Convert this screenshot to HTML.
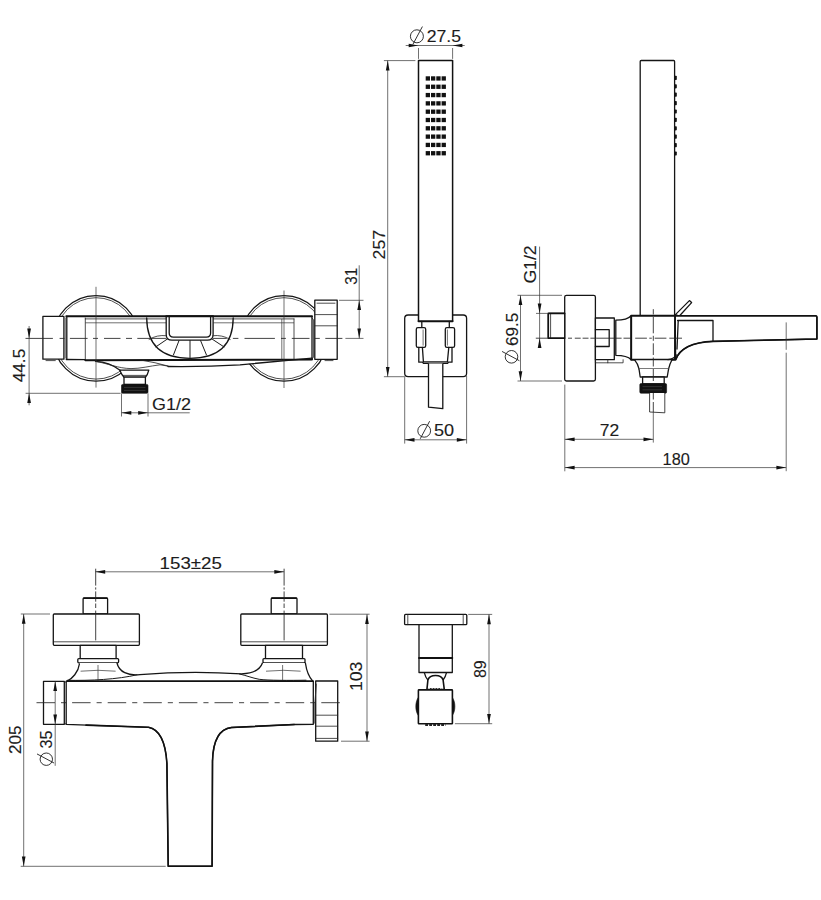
<!DOCTYPE html>
<html lang="en">
<head>
<meta charset="utf-8">
<title>Technical drawing</title>
<style>
html,body{margin:0;padding:0;background:#fff;}
body{width:821px;height:900px;overflow:hidden;}
svg{display:block;}
svg text{font-family:"Liberation Sans",Arial,Helvetica,sans-serif;fill:#1c1c1c;stroke:#1c1c1c;stroke-width:0.12;}
.k{fill:none;stroke:#111;stroke-width:1.9;stroke-linejoin:round;stroke-linecap:round;}
.m{fill:none;stroke:#151515;stroke-width:1.3;stroke-linejoin:round;stroke-linecap:round;}
.m2{fill:none;stroke:#1a1a1a;stroke-width:1;stroke-linecap:round;}
.mw{fill:#fff;stroke:#151515;stroke-width:1.3;stroke-linejoin:round;}
.kw{fill:#fff;stroke:#111;stroke-width:1.9;stroke-linejoin:round;}
.hw{fill:#fff;stroke:#111;stroke-width:1.5;stroke-linejoin:round;}
.k2{fill:none;stroke:#111;stroke-width:1.6;stroke-linejoin:round;stroke-linecap:round;}
.nw{fill:#fff;stroke:#222;stroke-width:0.85;stroke-linejoin:round;}
.kw2{fill:#fff;stroke:#111;stroke-width:1.6;stroke-linejoin:round;}
.w{fill:#fff;stroke:none;}
.n{fill:none;stroke:#222;stroke-width:0.8;stroke-linecap:round;}
.r{fill:none;stroke:#1c1c1c;stroke-width:1;stroke-linecap:round;}
.t{fill:none;stroke:#333;stroke-width:0.7;}
.c{fill:none;stroke:#222;stroke-width:0.85;stroke-dasharray:28 2.8 2.4 2.8;}
.cl{fill:none;stroke:#222;stroke-width:0.85;}
.c2{fill:none;stroke:#222;stroke-width:0.85;stroke-dasharray:18.5 6 5.1 6;}
.c3{fill:none;stroke:#222;stroke-width:0.85;stroke-dasharray:9 2.8 5 2.8;}
.c4{fill:none;stroke:#222;stroke-width:0.85;stroke-dasharray:16 2.5 2.5 2.5;}
.d{fill:none;stroke:#1c1c1c;stroke-width:0.9;}
.g{fill:none;stroke:#4a4a4a;stroke-width:0.6;}
.a{fill:#111;stroke:none;}
.b{fill:#111;stroke:#111;stroke-width:0.6;}
</style>
</head>
<body>
<svg width="821" height="900" viewBox="0 0 821 900">
<rect class="w" x="0" y="0" width="821" height="900"/>

<g id="front-view">
<circle class="m" cx="96" cy="338.4" r="42.8"/>
<circle class="n" cx="96" cy="338.4" r="40.7"/>
<circle class="m" cx="284" cy="338.4" r="42.8"/>
<circle class="n" cx="284" cy="338.4" r="40.7"/>
<path class="w" d="M66.3,316.3 H312 V358.6 L240,364.6 Q205,366.6 168,366.2 L150,368.6 L148.5,370.4 H120 C112,364 104,361.6 95.5,361.2 L66.3,359.3 Z"/>
<rect class="mw" x="42.9" y="316.4" width="21" height="42.8"/>
<line class="n" x1="46" y1="360.6" x2="55.3" y2="360.6"/>
<line class="t" x1="65.3" y1="317.5" x2="65.3" y2="358.5"/>
<rect class="mw" x="314.8" y="300.2" width="22.4" height="59.1"/>
<line class="n" x1="317" y1="303.2" x2="335" y2="303.2"/>
<line class="n" x1="314.8" y1="314.6" x2="337.2" y2="314.6"/>
<line class="n" x1="314.8" y1="325.8" x2="337.2" y2="325.8"/>
<line class="n" x1="325" y1="360.6" x2="333" y2="360.6"/>
<path class="n" d="M312,318 L313.6,320 V357 L312,359"/>
<line class="m" x1="66.8" y1="316.3" x2="66.8" y2="359.3"/>
<line class="k" x1="66.3" y1="316.3" x2="312" y2="316.3"/>
<line class="m" x1="312" y1="316.3" x2="312" y2="359.3"/>
<line class="m" x1="66.3" y1="359.5" x2="85.3" y2="359.7"/>
<line class="k" x1="85.3" y1="360.2" x2="312" y2="359.6"/>
<line class="n" x1="85.3" y1="318" x2="85.3" y2="359.5"/>
<line class="n" x1="294" y1="319" x2="294" y2="359.5"/>
<line class="t" x1="281.8" y1="319" x2="281.8" y2="359.5"/>
<line class="n" x1="85.3" y1="318.9" x2="294" y2="318.9"/>
<line class="t" x1="85.3" y1="322.8" x2="166" y2="322.8"/>
<line class="t" x1="213.3" y1="322.8" x2="294" y2="322.8"/>
<path class="m" d="M312,358.2 L240,364.8 Q205,367 168,366.5"/>
<path class="n" d="M140,359.9 Q156,362.5 168,366"/>
<path class="m" d="M95.5,361.3 C104,361.6 112,364 120.4,370.4"/>
<path class="n" d="M95.5,361.3 C108,363.5 118,368.4 131,368.6 C140,368.7 150,366 160,364.8 L168,366.1"/>
<path class="mw" d="M119.8,370.2 C121.2,373.5 122.4,375.6 124,377.2 H145.4 C147,375.6 148,373.5 148.8,370.2 Z"/>
<line class="n" x1="123.2" y1="375.4" x2="146.2" y2="375.4"/>
<rect class="mw" x="124" y="377.2" width="21.4" height="7.2"/>
<rect class="b" x="121.5" y="384.4" width="26.5" height="8.9" rx="1.2"/>
<line class="g" x1="124" y1="387.4" x2="145.5" y2="387.4"/>
<line class="g" x1="124" y1="390.4" x2="145.5" y2="390.4"/>
<line class="t" x1="121.5" y1="393.3" x2="121.5" y2="416.5"/>
<line class="t" x1="148" y1="393.3" x2="148" y2="416.5"/>
<path class="m" d="M146.7,318 C146.9,349 166,358.3 190,358.3 C214,358.3 233,349 233.2,318"/>
<path class="mw" d="M166.2,316.3 V334.5 Q166.2,340.2 172,340.2 H207.4 Q213.1,340.2 213.1,334.5 V316.3"/>
<path class="m" d="M169.2,317 V333 Q169.2,337.1 173.4,337.1 H206.4 Q210.6,337.1 210.6,333 V317"/>
<line class="r" x1="179" y1="340.6" x2="173.5" y2="354.8"/>
<line class="r" x1="190" y1="340.4" x2="190" y2="359.7"/>
<line class="r" x1="200.6" y1="340.6" x2="206.4" y2="354.8"/>
<line class="r" x1="167.4" y1="339" x2="155.8" y2="346.9"/>
<line class="r" x1="212" y1="339" x2="224" y2="346.9"/>
<path class="n" d="M149.1,339.4 Q157,334.6 166.2,335.7"/>
<path class="n" d="M213.1,335.7 Q222,334.6 230.2,339.4"/>
<line class="k" x1="166.2" y1="316.3" x2="213.1" y2="316.3"/>
<path class="cl" d="M25.5,338.4 H52.9 M59.6,338.4 H64.5 M69.9,338.4 H87.6 M93,338.4 H98 M104,338.4 H120.5 M126,338.4 H132 M137.3,338.4 H166.5 M213,338.4 H226.8 M232.9,338.4 H238.4 M244.5,338.4 H274.9 M281,338.4 H285.9 M291.8,338.4 H309.5 M315,338.4 H319.8 M325.3,338.4 H342.4"/>
<line class="t" x1="345.4" y1="338.4" x2="363.5" y2="338.4"/>
<line class="t" x1="96" y1="286.8" x2="96" y2="387.6"/>
<line class="t" x1="284" y1="290.5" x2="284" y2="388"/>
</g>
<g id="front-dims">
<line class="t" x1="29.1" y1="326" x2="29.1" y2="405.3"/>
<polygon class="a" points="29.1,338.4 27.25,328.6 30.95,328.6"/>
<polygon class="a" points="29.1,393.3 27.25,403.1 30.95,403.1"/>
<line class="t" x1="25.6" y1="393.3" x2="120.6" y2="393.3"/>
<text transform="translate(25.3 382.3) rotate(-90)" font-size="16" textLength="33.5" lengthAdjust="spacingAndGlyphs">44.5</text>
<line class="t" x1="121.5" y1="412.8" x2="189.7" y2="412.8"/>
<polygon class="a" points="121.5,412.8 131.3,410.95 131.3,414.65"/>
<polygon class="a" points="148,412.8 138.2,410.95 138.2,414.65"/>
<text x="152" y="409.6" font-size="16" textLength="38.9" lengthAdjust="spacingAndGlyphs">G1/2</text>
<line class="t" x1="339" y1="300.3" x2="363.5" y2="300.3"/>
<line class="t" x1="359.2" y1="265.3" x2="359.2" y2="338.4"/>
<polygon class="a" points="359.2,300.3 357.35,310.1 361.05,310.1"/>
<polygon class="a" points="359.2,338.4 357.35,328.6 361.05,328.6"/>
<text transform="translate(356.5 284.7) rotate(-90)" font-size="16" textLength="16.9" lengthAdjust="spacingAndGlyphs">31</text>
</g>
<g id="shower-front">
<rect class="mw" x="404.7" y="315" width="61.9" height="61.7" rx="3.4"/>
<path class="hw" d="M418.5,321.3 V60.6 H452.6 V321.3"/>
<line class="k" x1="418.5" y1="321.3" x2="452.6" y2="321.3"/>
<rect class="a" x="425.7" y="76.3" width="4.3" height="4.3"/>
<rect class="a" x="431" y="76.3" width="4.3" height="4.3"/>
<rect class="a" x="436.3" y="76.3" width="4.3" height="4.3"/>
<rect class="a" x="441.6" y="76.3" width="4.3" height="4.3"/>
<rect class="a" x="425.7" y="84.61" width="4.3" height="4.3"/>
<rect class="a" x="431" y="84.61" width="4.3" height="4.3"/>
<rect class="a" x="436.3" y="84.61" width="4.3" height="4.3"/>
<rect class="a" x="441.6" y="84.61" width="4.3" height="4.3"/>
<rect class="a" x="425.7" y="92.92" width="4.3" height="4.3"/>
<rect class="a" x="431" y="92.92" width="4.3" height="4.3"/>
<rect class="a" x="436.3" y="92.92" width="4.3" height="4.3"/>
<rect class="a" x="441.6" y="92.92" width="4.3" height="4.3"/>
<rect class="a" x="425.7" y="101.23" width="4.3" height="4.3"/>
<rect class="a" x="431" y="101.23" width="4.3" height="4.3"/>
<rect class="a" x="436.3" y="101.23" width="4.3" height="4.3"/>
<rect class="a" x="441.6" y="101.23" width="4.3" height="4.3"/>
<rect class="a" x="425.7" y="109.54" width="4.3" height="4.3"/>
<rect class="a" x="431" y="109.54" width="4.3" height="4.3"/>
<rect class="a" x="436.3" y="109.54" width="4.3" height="4.3"/>
<rect class="a" x="441.6" y="109.54" width="4.3" height="4.3"/>
<rect class="a" x="425.7" y="117.85" width="4.3" height="4.3"/>
<rect class="a" x="431" y="117.85" width="4.3" height="4.3"/>
<rect class="a" x="436.3" y="117.85" width="4.3" height="4.3"/>
<rect class="a" x="441.6" y="117.85" width="4.3" height="4.3"/>
<rect class="a" x="425.7" y="126.16" width="4.3" height="4.3"/>
<rect class="a" x="431" y="126.16" width="4.3" height="4.3"/>
<rect class="a" x="436.3" y="126.16" width="4.3" height="4.3"/>
<rect class="a" x="441.6" y="126.16" width="4.3" height="4.3"/>
<rect class="a" x="425.7" y="134.47" width="4.3" height="4.3"/>
<rect class="a" x="431" y="134.47" width="4.3" height="4.3"/>
<rect class="a" x="436.3" y="134.47" width="4.3" height="4.3"/>
<rect class="a" x="441.6" y="134.47" width="4.3" height="4.3"/>
<rect class="a" x="425.7" y="142.78" width="4.3" height="4.3"/>
<rect class="a" x="431" y="142.78" width="4.3" height="4.3"/>
<rect class="a" x="436.3" y="142.78" width="4.3" height="4.3"/>
<rect class="a" x="441.6" y="142.78" width="4.3" height="4.3"/>
<rect class="a" x="425.7" y="151.09" width="4.3" height="4.3"/>
<rect class="a" x="431" y="151.09" width="4.3" height="4.3"/>
<rect class="a" x="436.3" y="151.09" width="4.3" height="4.3"/>
<rect class="a" x="441.6" y="151.09" width="4.3" height="4.3"/>
<line class="m" x1="421.8" y1="321.3" x2="421.8" y2="327.7"/>
<line class="m" x1="449.3" y1="321.3" x2="449.3" y2="327.7"/>
<rect class="mw" x="416.3" y="327.7" width="9.4" height="19.7" rx="1.6"/>
<rect class="mw" x="445.3" y="327.7" width="9.3" height="19.7" rx="1.6"/>
<line class="t" x1="423.1" y1="329.5" x2="423.1" y2="345.6"/>
<line class="t" x1="447.4" y1="329.5" x2="447.4" y2="345.6"/>
<path class="m" d="M418.8,347.4 V362.2 L422.6,362.2 L423.4,363.4 H447.6 L448.4,362.2 H452 V347.4"/>
<path class="m" d="M422.4,347.4 L423.4,361.8 H447.4 L448.8,347.4"/>
<path class="mw" d="M428.5,363.4 V407.2 L442.8,408.6 V363.4"/>
</g>
<g id="shower-front-dims">
<line class="t" x1="405.7" y1="45.5" x2="464.7" y2="45.5"/>
<polygon class="a" points="418.5,45.5 408.7,43.65 408.7,47.35"/>
<polygon class="a" points="452.6,45.5 462.4,43.65 462.4,47.35"/>
<line class="t" x1="418.5" y1="48" x2="418.5" y2="58.9"/>
<line class="t" x1="452.6" y1="48" x2="452.6" y2="58.9"/>
<circle class="d" cx="416.9" cy="36.3" r="6.5"/>
<line class="d" x1="412.87" y1="44.42" x2="422.42" y2="26.55"/>
<text x="426.7" y="41.9" font-size="16" textLength="34.3" lengthAdjust="spacingAndGlyphs">27.5</text>
<line class="t" x1="383.9" y1="60.6" x2="415.4" y2="60.6"/>
<line class="t" x1="383.9" y1="376.7" x2="404" y2="376.7"/>
<line class="t" x1="387.7" y1="60.6" x2="387.7" y2="376.7"/>
<polygon class="a" points="387.7,60.6 385.85,70.4 389.55,70.4"/>
<polygon class="a" points="387.7,376.7 385.85,366.9 389.55,366.9"/>
<text transform="translate(384.7 259.4) rotate(-90)" font-size="16" textLength="29.4" lengthAdjust="spacingAndGlyphs">257</text>
<line class="t" x1="404.7" y1="376" x2="404.7" y2="443.6"/>
<line class="t" x1="466.6" y1="376" x2="466.6" y2="443.6"/>
<line class="t" x1="404.7" y1="439.8" x2="466.6" y2="439.8"/>
<polygon class="a" points="404.7,439.8 414.5,437.95 414.5,441.65"/>
<polygon class="a" points="466.6,439.8 456.8,437.95 456.8,441.65"/>
<circle class="d" cx="424.2" cy="430.8" r="6.4"/>
<line class="d" x1="420.23" y1="438.8" x2="429.64" y2="421.2"/>
<text x="434" y="435.9" font-size="16" textLength="20.1" lengthAdjust="spacingAndGlyphs">50</text>
</g>
<g id="side-view">
<rect class="mw" x="640.2" y="60.5" width="34.4" height="255.5" rx="1"/>
<rect class="a" x="674.6" y="75.8" width="2.2" height="4.2" rx="0.8"/>
<rect class="a" x="674.6" y="84.2" width="2.2" height="4.2" rx="0.8"/>
<rect class="a" x="674.6" y="92.6" width="2.2" height="4.2" rx="0.8"/>
<rect class="a" x="674.6" y="101" width="2.2" height="4.2" rx="0.8"/>
<rect class="a" x="674.6" y="109.4" width="2.2" height="4.2" rx="0.8"/>
<rect class="a" x="674.6" y="117.8" width="2.2" height="4.2" rx="0.8"/>
<rect class="a" x="674.6" y="126.2" width="2.2" height="4.2" rx="0.8"/>
<rect class="a" x="674.6" y="134.6" width="2.2" height="4.2" rx="0.8"/>
<rect class="a" x="674.6" y="143" width="2.2" height="4.2" rx="0.8"/>
<rect class="a" x="674.6" y="151.4" width="2.2" height="4.2" rx="0.8"/>
<path class="mw" d="M675.4,314.6 L689.4,300.6 L691.6,302.6 L679.4,316 Z"/>
<rect class="mw" x="564.7" y="295.3" width="30.7" height="85.7" rx="1.8"/>
<rect class="mw" x="548.3" y="313.4" width="16.4" height="24.8" rx="0.8"/>
<line class="n" x1="550.6" y1="314" x2="550.6" y2="337.6"/>
<path class="k2" d="M564.7,313.4 H548.3 V338.2 H564.7"/>
<rect class="mw" x="595.4" y="318" width="18.9" height="41.7"/>
<path class="m" d="M595.4,329.7 H609.2 V346.5 H595.4"/>
<path class="n" d="M595.4,359.7 V362.8 H623.1 V359.7 M607.8,359.7 V362.8"/>
<path class="mw" d="M615.8,320.2 C622,320.2 628,319.4 631.2,315.8 V359.7 C628,356.2 622,355.3 615.8,355.3 Z"/>
<path class="mw" d="M675,315.8 H815.6 Q816.9,315.8 816.9,317.1 V339 L713,341.4 C694,342.2 680,348 675.7,359.6 Z"/>
<path class="k2" d="M675,315.8 H815.6 Q816.9,315.8 816.9,317.1 V339 L713,341.4 C694,342.2 680,348 675.7,359.6"/>
<path class="m" d="M677.6,320.5 H713 V341.2"/>
<path class="m" d="M678.2,321 L677,349"/>
<rect class="kw" x="631.2" y="315.8" width="43.8" height="43.9"/>
<path class="mw" d="M634.4,359.7 C637.2,363 638.4,366 639,368.8 H668.6 C669.2,366 670.2,363 672,359.7 Z"/>
<path class="mw" d="M639,368.8 L640.2,377 H667.2 L668.6,368.8"/>
<rect class="mw" x="642.6" y="377" width="21.6" height="7"/>
<rect class="b" x="639.8" y="383.6" width="26.8" height="9.6" rx="1.2"/>
<line class="g" x1="642.5" y1="386.6" x2="662" y2="386.6"/>
<line class="g" x1="642.5" y1="389.8" x2="662" y2="389.8"/>
<path class="nw" d="M649.6,393 V412 L664.8,412.8 V393"/>
<path class="m" d="M668,359.7 C672,359 675,357.5 676.4,355"/>
<path class="cl" d="M535.8,338.2 H548.3 M568,338.2 H572 M574.8,338.2 H580.7 M582.6,338.2 H588.5 M590.4,338.2 H596.3 M596.3,338.2 H621.6 M623.5,338.2 H631.3 M635.2,338.2 H646.9 M649.3,338.2 H651.8 M654.7,338.2 H666.4 M669.3,338.2 H682"/>
<path class="cl" d="M653.3,309.2 V314.5 M653.3,317 V333.3 M653.3,335.8 V340.8 M653.3,343.3 V355 M653.3,357.5 V366.5 M653.3,369 V381 M653.3,393 V399.5 M653.3,402 V412"/>
<line class="t" x1="653.3" y1="412" x2="653.3" y2="442.6"/>

</g>
<g id="side-dims">
<line class="t" x1="517.5" y1="295.3" x2="562" y2="295.3"/>
<line class="t" x1="517.5" y1="381" x2="562" y2="381"/>
<line class="t" x1="520.5" y1="295.3" x2="520.5" y2="381"/>
<polygon class="a" points="520.5,295.3 518.65,305.1 522.35,305.1"/>
<polygon class="a" points="520.5,381 518.65,371.2 522.35,371.2"/>
<text transform="translate(518.1 346) rotate(-90)" font-size="16" textLength="33.4" lengthAdjust="spacingAndGlyphs">69.5</text>
<circle class="d" cx="511.5" cy="356.8" r="6.3"/>
<line class="d" x1="519.38" y1="360.71" x2="502.05" y2="351.44"/>
<line class="t" x1="539.6" y1="246.6" x2="539.6" y2="347.9"/>
<polygon class="a" points="539.6,313.4 537.75,303.6 541.45,303.6"/>
<polygon class="a" points="539.6,338.2 537.75,348 541.45,348"/>
<line class="t" x1="536" y1="313.4" x2="548" y2="313.4"/>
<text transform="translate(536 283.6) rotate(-90)" font-size="16" textLength="38.2" lengthAdjust="spacingAndGlyphs">G1/2</text>
<line class="t" x1="564.8" y1="384.6" x2="564.8" y2="471.3"/>
<line class="t" x1="564.8" y1="439.3" x2="653.3" y2="439.3"/>
<polygon class="a" points="564.8,439.3 574.6,437.45 574.6,441.15"/>
<polygon class="a" points="653.3,439.3 643.5,437.45 643.5,441.15"/>
<text x="599.8" y="435.9" font-size="16" textLength="19.4" lengthAdjust="spacingAndGlyphs">72</text>
<line class="t" x1="564.8" y1="467.6" x2="786.2" y2="467.6"/>
<polygon class="a" points="564.8,467.6 574.6,465.75 574.6,469.45"/>
<polygon class="a" points="786.2,467.6 776.4,465.75 776.4,469.45"/>
<text x="662.6" y="464.5" font-size="16" textLength="27.2" lengthAdjust="spacingAndGlyphs">180</text>
<line class="t" x1="786.2" y1="322.4" x2="786.2" y2="349.8"/>
<line class="t" x1="786.2" y1="352.7" x2="786.2" y2="471.2"/>
</g>
<g id="plan-view">
<rect class="mw" x="83.1" y="598" width="24.5" height="16" rx="1"/>
<line class="k2" x1="83.7" y1="598.2" x2="107" y2="598.2"/>
<rect class="mw" x="53.3" y="614" width="86.1" height="31.3" rx="1"/>
<line class="n" x1="53.3" y1="641.8" x2="139.4" y2="641.8"/>
<rect class="mw" x="80.2" y="645.3" width="35.9" height="13.3"/>
<rect class="mw" x="77.8" y="658.6" width="40.8" height="4.2" rx="1"/>
<line class="m" x1="79.8" y1="664.5" x2="116.2" y2="664.5"/>
<rect class="mw" x="271.2" y="598" width="25.8" height="16" rx="1"/>
<line class="k2" x1="271.8" y1="598.2" x2="296.4" y2="598.2"/>
<rect class="mw" x="240.8" y="614" width="86.6" height="31.3" rx="1"/>
<line class="n" x1="240.8" y1="641.8" x2="327.4" y2="641.8"/>
<rect class="mw" x="265.5" y="645.3" width="37" height="13.3"/>
<rect class="mw" x="263" y="658.6" width="42" height="4.2" rx="1"/>
<line class="m" x1="265" y1="664.5" x2="302.6" y2="664.5"/>
<path class="w" d="M79.4,663 C78.5,672 72,679 67.2,681.2 H140 L140,674.6 C128,676 119,672 117,663 Z"/>
<path class="m" d="M79.4,664 C78.5,672 72,679 67.2,681"/>
<path class="w" d="M262.4,663 C260,670 252,673.4 241.4,673.8 Q190,670.4 140,674.6 L117.2,681.2 H312.6 C308,676 306.4,670 305.4,663 Z"/>
<path class="m" d="M117,663 C119,672 128,676 140,674.6 Q190,670.4 241.4,673.8 C252,673.4 260,670 262.4,663"/>
<path class="m" d="M305.4,663 C306.4,670 308,676 312.8,681.2"/>
<path class="m2" d="M67.4,680.3 C90,680.8 118,679.4 137,674.8"/>
<path class="m2" d="M239.5,674 C246,675.4 252,678 259.2,679.3 C268,680.5 290,680.5 306,680.2"/>
<path class="t" d="M80.6,671.2 Q98,669.4 115.6,671.2 M266,671.2 Q284,669.4 300.6,671.2"/>
<line class="t" x1="98" y1="665" x2="98" y2="680.6"/>
<line class="t" x1="282.6" y1="665" x2="282.6" y2="680.6"/>
<path class="mw" d="M66.2,681.2 H313.3 V724.3 L294.3,724.5 L231.5,727.5 C219,729 213,742 212.5,760.9 L212.1,866.2 H168.2 L166.9,763.3 C165.6,742 160,729.5 148.6,727.3 L66.2,724.4 Z"/>
<path class="k2" d="M86,725.1 L148.6,727.3 C160,729.5 165.6,742 166.9,763.3 L168.2,866.2 H212.1 L212.5,760.9 C213,742 219,729 231.5,727.5 L294.3,724.5"/>
<line class="k2" x1="67" y1="681.2" x2="313" y2="681.2"/>
<rect class="mw" x="43.5" y="681.3" width="20.8" height="43"/>
<line class="n" x1="64.3" y1="682" x2="66.2" y2="682"/>
<line class="n" x1="64.3" y1="723.8" x2="66.2" y2="723.8"/>
<rect class="mw" x="315.7" y="681" width="22" height="60.2"/>
<line class="n" x1="315.7" y1="715.2" x2="337.7" y2="715.2"/>
<line class="n" x1="315.7" y1="726.2" x2="337.7" y2="726.2"/>
<line class="n" x1="315.7" y1="738.4" x2="337.7" y2="738.4"/>
<path class="t" d="M316.6,683.6 L314.6,704 V723.6"/>
<line class="c2" x1="36.5" y1="702.7" x2="339.8" y2="702.7"/>
<path class="cl" d="M95.7,568.7 V585.6 M95.7,587.4 V589.6 M95.7,591.4 V601.7 M95.7,603.5 V608 M95.7,610.6 V640.4"/>
<path class="cl" d="M284.1,568.7 V585.6 M284.1,587.4 V589.6 M284.1,591.4 V601.7 M284.1,603.5 V608 M284.1,610.6 V640.4"/>
</g>
<g id="plan-dims">
<line class="t" x1="95.4" y1="571.8" x2="284.1" y2="571.8"/>
<polygon class="a" points="95.4,571.8 105.2,569.95 105.2,573.65"/>
<polygon class="a" points="284.1,571.8 274.3,569.95 274.3,573.65"/>
<text x="159.6" y="568.5" font-size="16" textLength="62.3" lengthAdjust="spacingAndGlyphs">153±25</text>
<line class="t" x1="20.8" y1="614" x2="50" y2="614"/>
<line class="t" x1="20.7" y1="866.3" x2="165.7" y2="866.3"/>
<line class="t" x1="23.7" y1="614" x2="23.7" y2="866.3"/>
<polygon class="a" points="23.7,614 21.85,623.8 25.55,623.8"/>
<polygon class="a" points="23.7,866.3 21.85,856.5 25.55,856.5"/>
<text transform="translate(20.7 754.1) rotate(-90)" font-size="16" textLength="28.5" lengthAdjust="spacingAndGlyphs">205</text>
<line class="t" x1="55.2" y1="681.3" x2="55.2" y2="765.8"/>
<polygon class="a" points="55.2,681.3 53.35,691.1 57.05,691.1"/>
<polygon class="a" points="55.2,724.3 53.35,714.5 57.05,714.5"/>
<text transform="translate(52.4 748.5) rotate(-90)" font-size="16" textLength="18" lengthAdjust="spacingAndGlyphs">35</text>
<circle class="d" cx="46.3" cy="759.2" r="6.2"/>
<line class="d" x1="54.05" y1="763.04" x2="37" y2="753.93"/>
<line class="t" x1="329.4" y1="614.2" x2="369.6" y2="614.2"/>
<line class="t" x1="341" y1="741.2" x2="369.6" y2="741.2"/>
<line class="t" x1="367" y1="614.2" x2="367" y2="741.2"/>
<polygon class="a" points="367,614.2 365.15,624 368.85,624"/>
<polygon class="a" points="367,741.2 365.15,731.4 368.85,731.4"/>
<text transform="translate(362 691.1) rotate(-90)" font-size="16" textLength="29.5" lengthAdjust="spacingAndGlyphs">103</text>
</g>
<g id="holder-side">
<rect class="mw" x="404.6" y="614.4" width="62.2" height="10.3" rx="1"/>
<line class="n" x1="407.8" y1="614.4" x2="407.8" y2="624.7"/>
<line class="n" x1="463.2" y1="614.4" x2="463.2" y2="624.7"/>
<rect class="mw" x="419" y="624.7" width="33.3" height="47.8"/>
<line class="k" x1="419" y1="658" x2="452.3" y2="658"/>
<path class="m" d="M424.3,672.6 C425,675.6 426,677.9 427.9,680 M446.5,672.6 C445.8,675.6 444.8,677.9 443.1,680"/>
<path class="kw2" d="M426.9,689.6 L427.9,680 C429,676.6 432,675.5 435.6,675.5 C439.2,675.5 442,676.6 443.1,680 L444.3,689.6 Z"/>
<path class="b" d="M418.3,697.5 C415,702 415,711 418.3,715.4 Z M452.4,697.5 C455.7,702 455.7,711 452.4,715.4 Z"/>
<rect class="kw2" x="418.4" y="689.9" width="34" height="33.9" rx="0.6"/>
<line x1="425.2" y1="724.9" x2="445.6" y2="724.9" stroke="#222" stroke-width="2" stroke-dasharray="2.8 1.2"/>
<line x1="430" y1="688.6" x2="441.4" y2="688.6" stroke="#333" stroke-width="1.2" stroke-dasharray="1.6 1.2"/>
</g>
<g id="holder-dims">
<line class="t" x1="468.2" y1="614.4" x2="492.2" y2="614.4"/>
<line class="t" x1="454.9" y1="723.7" x2="492.2" y2="723.7"/>
<line class="t" x1="489" y1="614.4" x2="489" y2="723.7"/>
<polygon class="a" points="489,614.4 487.15,624.2 490.85,624.2"/>
<polygon class="a" points="489,723.7 487.15,713.9 490.85,713.9"/>
<text transform="translate(485.5 678.1) rotate(-90)" font-size="16" textLength="17.8" lengthAdjust="spacingAndGlyphs">89</text>
</g>
</svg>
</body>
</html>
